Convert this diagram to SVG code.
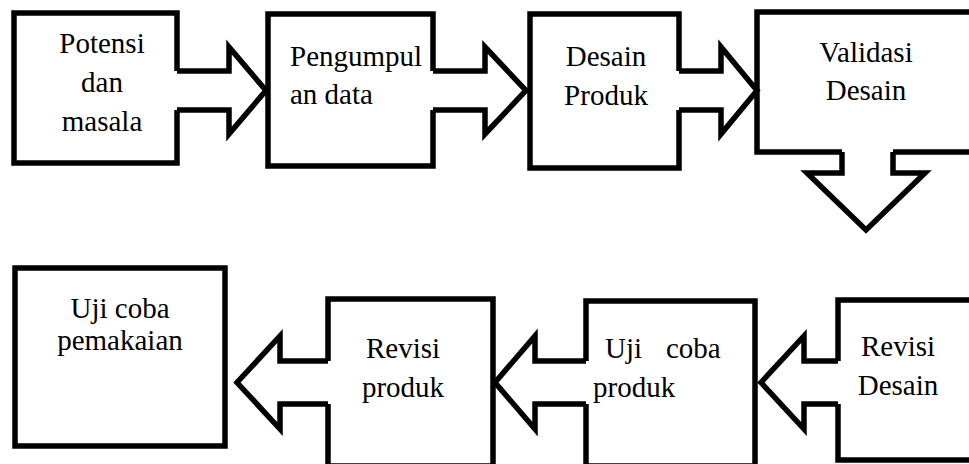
<svg xmlns="http://www.w3.org/2000/svg" width="969" height="464" viewBox="0 0 969 464">
<style>
.box{fill:#fff;stroke:#000;stroke-width:5.5}
.af{fill:#fff;stroke:none}
.as{fill:none;stroke:#000;stroke-width:5.5;stroke-linejoin:miter;stroke-miterlimit:10}
.t{font-family:'Liberation Serif','DejaVu Serif',serif;font-size:29px;fill:#000}
.c{text-anchor:middle}
</style>
<rect width="969" height="464" fill="#fff"/>
<g class="t" font-family="Liberation Serif, DejaVu Serif, serif">
<g id="n1"><rect class="box" x="14" y="13" width="163" height="150"/>
<text class="c" x="102" y="53">Potensi</text><text class="c" x="102" y="92">dan</text><text class="c" x="102" y="131">masala</text></g>
<g id="n2"><rect class="box" x="268" y="14" width="165" height="152"/>
<text x="290" y="66">Pengumpul</text><text x="290" y="104">an data</text></g>
<g id="n3"><rect class="box" x="530" y="14" width="149" height="154"/>
<text class="c" x="606" y="66">Desain</text><text class="c" x="606" y="105">Produk</text></g>
<g id="n4"><rect class="box" x="757" y="12" width="220" height="140"/>
<text class="c" x="866" y="62">Validasi</text><text class="c" x="866" y="100">Desain</text></g>
<g id="n5"><rect class="box" x="15" y="268" width="210" height="178"/>
<text class="c" x="120" y="318">Uji coba</text><text class="c" x="120" y="350">pemakaian</text></g>
<g id="n6"><rect class="box" x="328" y="299" width="165" height="167"/>
<text class="c" x="403" y="358">Revisi</text><text class="c" x="403" y="397">produk</text></g>
<g id="n7"><rect class="box" x="586" y="301" width="169" height="165"/>
<text x="605" y="358">Uji</text><text x="666" y="358">coba</text><text x="593" y="397">produk</text></g>
<g id="n8"><rect class="box" x="838" y="300" width="140" height="160"/>
<text class="c" x="898" y="356">Revisi</text><text class="c" x="898" y="395">Desain</text></g>
</g>
<g id="connectors">
<path class="af" d="M174,71 L229,71 L229,47 L266,90.5 L229,134 L229,110 L174,110 Z"/>
<path class="as" d="M177,71 L229,71 L229,47 L266,90.5 L229,134 L229,110 L177,110"/>
<path class="af" d="M430,71 L485,71 L485,47 L526,90.5 L485,134 L485,110 L430,110 Z"/>
<path class="as" d="M433,71 L485,71 L485,47 L526,90.5 L485,134 L485,110 L433,110"/>
<path class="af" d="M676,71 L721,71 L721,47 L757,90.5 L721,134 L721,110 L676,110 Z"/>
<path class="as" d="M679,71 L721,71 L721,47 L757,90.5 L721,134 L721,110 L679,110"/>
<path class="af" d="M842,149 L842,173 L807,173 L866,230 L925,173 L893,173 L893,149 Z"/>
<path class="as" d="M842,152 L842,173 L807,173 L866,230 L925,173 L893,173 L893,152"/>
<path class="af" d="M331,361 L280,361 L280,336 L237,382.5 L280,429 L280,404 L331,404 Z"/>
<path class="as" d="M328,361 L280,361 L280,336 L237,382.5 L280,429 L280,404 L328,404"/>
<path class="af" d="M589,361 L535,361 L535,336 L495,382.5 L535,429 L535,404 L589,404 Z"/>
<path class="as" d="M586,361 L535,361 L535,336 L495,382.5 L535,429 L535,404 L586,404"/>
<path class="af" d="M841,361 L804,361 L804,336 L761,382.5 L804,429 L804,404 L841,404 Z"/>
<path class="as" d="M838,361 L804,361 L804,336 L761,382.5 L804,429 L804,404 L838,404"/>
</g>
</svg>
